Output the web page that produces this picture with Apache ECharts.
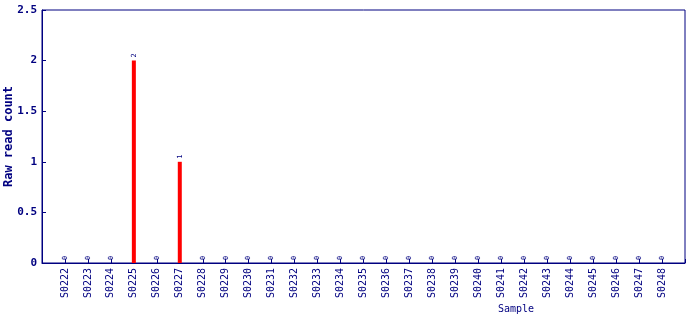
<!DOCTYPE html>
<html>
<head>
<meta charset="utf-8">
<script src="https://cdn.jsdelivr.net/npm/echarts@6/dist/echarts.min.js"></script>
<style>html,body{margin:0;padding:0;background:#fff;}#c{width:690px;height:320px;}</style>
</head>
<body>
<div id="c"></div>
<script>
const categories = ["S0222","S0223","S0224","S0225","S0226","S0227","S0228","S0229","S0230","S0231","S0232","S0233","S0234","S0235","S0236","S0237","S0238","S0239","S0240","S0241","S0242","S0243","S0244","S0245","S0246","S0247","S0248"];
const values = [0,0,0,2,0,1,0,0,0,0,0,0,0,0,0,0,0,0,0,0,0,0,0,0,0,0,0];
const yTicks = [0, 0.5, 1, 1.5, 2, 2.5];
const xTitle = "Sample";
const yTitle = "Raw read count";

const navy = '#000080';
const mono = '"DejaVu Sans Mono", "Liberation Mono", monospace';
const chart = echarts.init(document.getElementById('c'), null, {renderer: 'canvas'});
chart.setOption({
  animation: false,
  backgroundColor: '#fff',
  title: {
    text: xTitle, left: 498, top: 304, padding: 0,
    textStyle: {fontFamily: mono, fontSize: 10, fontWeight: 'normal', color: navy}
  },
  grid: {left: 42, right: 5, top: 10, bottom: 57, containLabel: false, outerBoundsMode: 'none',
         show: true, borderColor: navy, borderWidth: 1, backgroundColor: 'transparent'},
  xAxis: {
    type: 'value', min: -1, max: categories.length, interval: 1,
    axisLine: {show: true, onZero: false, lineStyle: {color: navy, width: 1}},
    axisTick: {show: true, inside: true, length: 4, lineStyle: {color: navy}},
    splitLine: {show: false},
    axisLabel: {
      rotate: 90, margin: 5, fontFamily: mono, fontSize: 10, color: navy,
      showMinLabel: true, showMaxLabel: true,
      formatter: v => (categories[v] !== undefined ? categories[v] : '')
    }
  },
  yAxis: {
    type: 'value', min: yTicks[0], max: yTicks[yTicks.length - 1], interval: 0.5,
    name: yTitle, nameLocation: 'middle', nameGap: 27, nameMoveOverlap: false,
    nameTextStyle: {fontFamily: mono, fontSize: 12, fontWeight: 'bold', color: navy},
    axisLine: {show: true, onZero: false, lineStyle: {color: navy, width: 1}},
    axisTick: {show: true, inside: true, length: 4, lineStyle: {color: navy}},
    splitLine: {show: false},
    axisLabel: {margin: 5, fontFamily: mono, fontSize: 11, fontWeight: 'bold', color: navy}
  },
  series: [{
    type: 'bar',
    barWidth: 4,
    data: values.map((v, i) => [i, v]),
    itemStyle: {color: '#ff0000'},
    label: {
      show: true, position: 'top', rotate: 90, distance: 3,
      align: 'left', verticalAlign: 'middle',
      fontFamily: mono, fontSize: 7, color: navy,
      formatter: p => String(p.value[1])
    }
  }]
});
</script>
</body>
</html>
